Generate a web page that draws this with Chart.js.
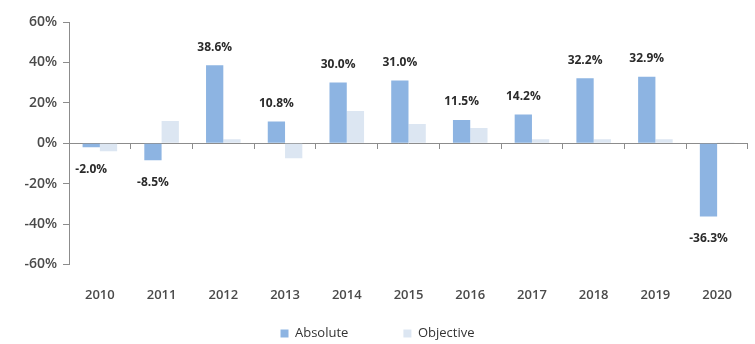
<!DOCTYPE html>
<html>
<head>
<meta charset="utf-8">
<script src="https://cdn.jsdelivr.net/npm/chart.js@4.4.0/dist/chart.umd.min.js"></script>
<style>
  html, body { margin: 0; padding: 0; background: #fff; }
  #wrap { width: 755px; height: 344px; }
</style>
</head>
<body>
<div id="wrap"><canvas id="perfChart" width="755" height="344"></canvas></div>
<script>
const years = ["2010", "2011", "2012", "2013", "2014", "2015", "2016", "2017", "2018", "2019", "2020"];
const absoluteValues = [-2.0, -8.5, 38.6, 10.8, 30.0, 31.0, 11.5, 14.2, 32.2, 32.9, -36.3];
const objectiveValues = [-4.0, 11.0, 2.0, -7.5, 16.0, 9.5, 7.5, 2.0, 2.0, 2.0, 0.3];
const yTicks = [-60, -40, -20, 0, 20, 40, 60];

const absColor = "#8db4e2";
const objColor = "#dce6f2";
const axisColor = "#8c8c8c";

// value labels above / below the Absolute bars
const barLabels = {
  id: "barLabels",
  afterDatasetsDraw(chart) {
    const ctx = chart.ctx;
    const meta = chart.getDatasetMeta(0);
    ctx.save();
    ctx.font = "bold 12px 'Open Sans'";
    ctx.fillStyle = "#2b2b2b";
    ctx.textAlign = "center";
    ctx.textBaseline = "middle";
    meta.data.forEach((bar, i) => {
      const v = absoluteValues[i];
      const y = v >= 0 ? bar.y - 18 : bar.y + 22;
      ctx.fillText(v.toFixed(1) + "%", bar.x, y);
    });
    ctx.restore();
  }
};

new Chart(document.getElementById("perfChart"), {
  type: "bar",
  data: {
    labels: years,
    datasets: [
      {
        label: "Absolute",
        data: absoluteValues,
        backgroundColor: absColor,
        xAxisID: "x"
      },
      {
        label: "Objective",
        data: objectiveValues,
        backgroundColor: objColor,
        xAxisID: "x"
      }
    ]
  },
  options: {
    responsive: false,
    animation: false,
    events: [],
    layout: { padding: { top: 22, right: 0, left: 0, bottom: -6 } },
    datasets: {
      bar: { categoryPercentage: 0.56, barPercentage: 1.0 }
    },
    scales: {
      x: {
        position: "bottom",
        grid: { display: false, drawTicks: false },
        border: { display: false },
        ticks: {
          padding: 23,
          color: "#4a4a4a",
          font: { family: "'Open Sans'", size: 13, weight: "600" }
        }
      },
      x0: {
        type: "category",
        position: { y: 0 },
        offset: true,
        grid: { drawOnChartArea: false, drawTicks: true, tickLength: 5, color: axisColor, offset: true },
        border: { color: axisColor, width: 1 },
        ticks: { display: false }
      },
      y: {
        min: -60,
        max: 60,
        afterBuildTicks(scale) {
          scale.ticks = yTicks.map(v => ({ value: v }));
        },
        afterFit(scale) {
          scale.width = 69;
        },
        grid: { drawOnChartArea: false, drawTicks: true, tickLength: 6, color: axisColor },
        border: { color: axisColor, width: 1 },
        ticks: {
          padding: 6,
          color: "#4a4a4a",
          font: { family: "'Open Sans'", size: 14, weight: "600" },
          callback: v => v + "%"
        }
      }
    },
    plugins: {
      legend: {
        position: "bottom",
        labels: {
          boxWidth: 8,
          boxHeight: 8,
          padding: 1,
          color: "#333",
          font: { family: "'Open Sans'", size: 13 },
          generateLabels(chart) {
            const items = Chart.defaults.plugins.legend.labels.generateLabels(chart);
            // wider gap between the two legend entries
            items[0].text = items[0].text + "\u00a0".repeat(16);
            items.forEach(it => { it.lineWidth = 0; });
            return items;
          }
        }
      },
      tooltip: { enabled: false }
    }
  },
  plugins: [barLabels]
});
</script>
</body>
</html>
